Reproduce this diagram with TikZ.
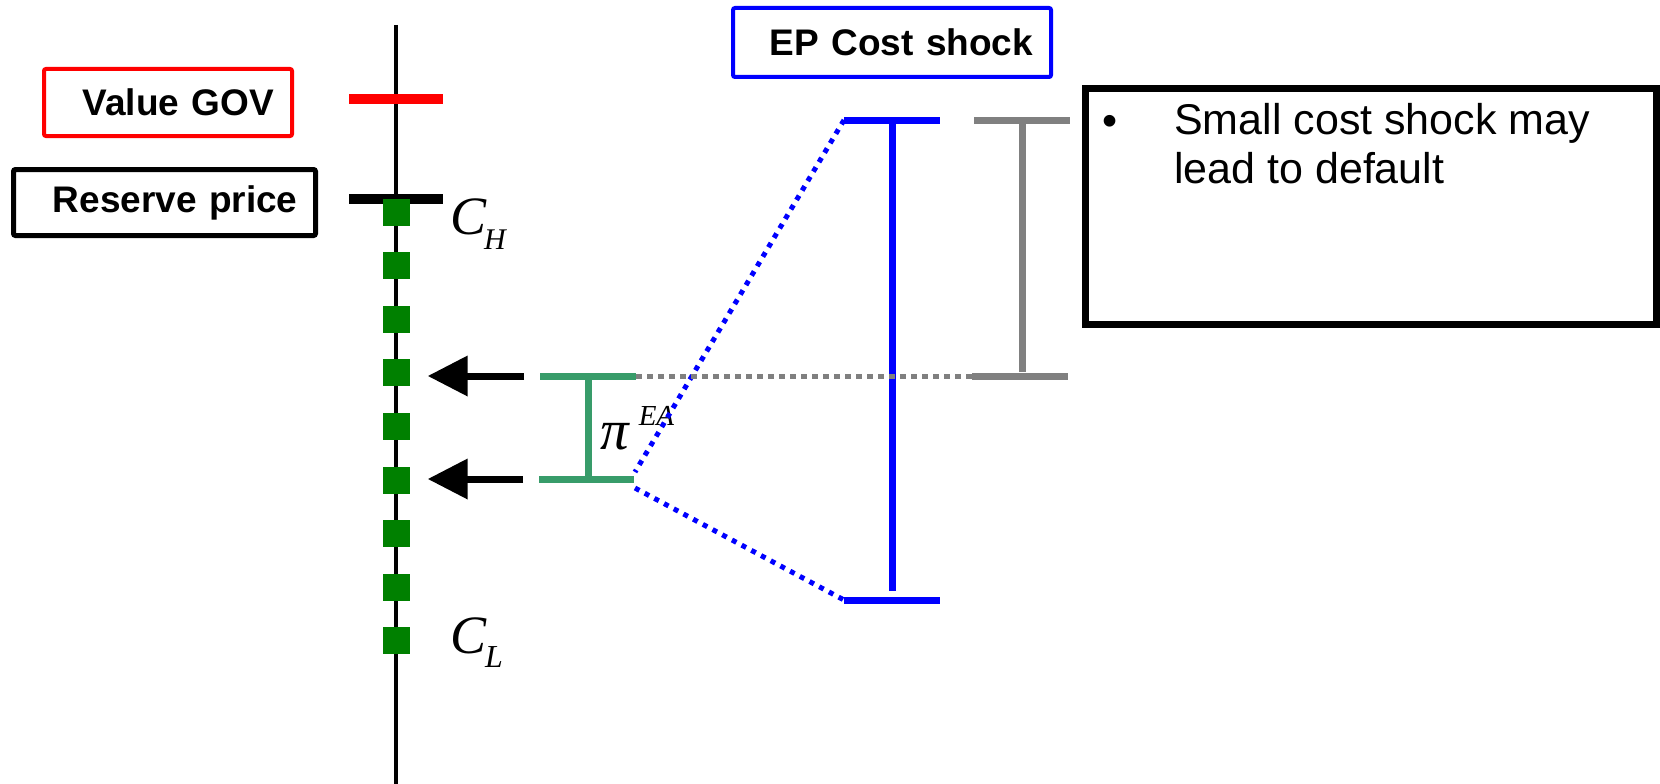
\documentclass[tikz,border=0pt]{standalone}
\usepackage{fontspec}
\setmainfont{Liberation Sans}
\newfontfamily\eqfont{Liberation Serif}
\usetikzlibrary{arrows.meta,positioning,calc}
\definecolor{Gov}{HTML}{FF0000}
\definecolor{Shock}{HTML}{0000FF}
\definecolor{Bid}{HTML}{008000}
\definecolor{Margin}{HTML}{389C6A}
\definecolor{Gap}{HTML}{808080}

\begin{document}
\begin{tikzpicture}[x=1pt,y=-1pt,>=Latex,
  tag/.style={draw,rounded corners=2pt,align=right,inner xsep=18pt,font=\fontsize{37}{40}\selectfont\bfseries},
  tick/.style={line width=10pt},
  bar/.style={line width=7pt},
  cost/.style={inner sep=0pt,anchor=base west,font=\fontsize{54}{54}\eqfont\itshape}]
  \useasboundingbox (0,0) rectangle (1660,784);
  \coordinate (top) at (396,25);
  \coordinate (bot) at (396,784);
  \draw[line width=4.5pt] (top) -- (bot);
  \node[tag,Gov,text=black,line width=4pt,text width=212pt,minimum height=67pt] (gov) at (168,102.5) {Value GOV};
  \node[tag,line width=5pt,text width=266pt,minimum height=66pt] (res) at (164.5,202.5) {Reserve price};
  \node[tag,Shock,text=black,line width=4pt,text width=282pt,minimum height=69pt] (ep) at (892,42.5) {EP Cost shock};
  \draw[tick,Gov] (349,98.5) -- (443,98.5);
  \draw[tick] (349,199) -- (443,199);
  \foreach \i in {1,...,9}
    \node[fill=Bid,minimum size=27pt,inner sep=0pt] (sq\i) at (396,{212+53.6*(\i-1)}) {};
  \node[cost] (ch) at (450,234) {C\kern-2pt\raisebox{-15pt}{\fontsize{30}{30}\selectfont H}};
  \node[cost] (cl) at (450,653) {C\kern-1pt\raisebox{-14pt}{\fontsize{32}{32}\selectfont L}};
  \coordinate (eal) at (540,376);
  \coordinate (ear) at (636,376);
  \coordinate (ebl) at (539,479);
  \coordinate (ebr) at (634,479);
  \coordinate (em) at ($(eal)!.5!(ear)$);
  \draw[bar,Margin] (eal) -- (ear);
  \draw[bar,Margin] (ebl) -- (ebr);
  \draw[bar,Margin] (em) -- (em |- ebl);
  \node[cost,font=\fontsize{57}{57}\eqfont\itshape] (pi) at (600,449) {π\kern10pt\raisebox{24pt}{\fontsize{29}{29}\selectfont EA}};
  \draw[bar,-{Triangle[length=40pt,width=39pt]}] ($(eal)+(-16,0)$) -- ($(eal -| sq4.east)+(18,0)$);
  \draw[bar,-{Triangle[length=40pt,width=39pt]}] ($(ebl)+(-16,0)$) -- ($(ebl -| sq6.east)+(18,0)$);
  \coordinate (sa) at (844,120);
  \coordinate (sb) at (940,120);
  \coordinate (sc) at (844,600);
  \coordinate (sd) at (940,600);
  \coordinate (sm) at ($(sa)!.5!(sb)$);
  \draw[bar,Shock] (sa) -- (sb);
  \draw[bar,Shock] (sc) -- (sd);
  \draw[bar,Shock,shorten >=9pt] (sm) -- (sm |- sc);
  \coordinate (fanu) at (635,472);
  \coordinate (fand) at (635,488);
  \draw[Shock,line width=5pt,dash pattern=on 5pt off 6pt] (sa) -- (fanu);
  \draw[Shock,line width=5pt,dash pattern=on 5pt off 6pt] (fand) -- (sc);
  \coordinate (ga) at (974,120);
  \coordinate (gb) at (1070,120);
  \coordinate (gc) at (972,376);
  \coordinate (gd) at (1068,376);
  \coordinate (gm) at ($(ga)!.5!(gb)$);
  \draw[bar,Gap] (ga) -- (gb);
  \draw[bar,Gap] (gc) -- (gd);
  \draw[bar,Gap,shorten >=4pt] (gm) -- (gm |- gc);
  \draw[Gap,line width=5pt,dash pattern=on 6pt off 5pt] (ear) -- (gc);
  \node[draw,line width=7pt,minimum width=571pt,minimum height=236pt,inner sep=0pt] (note) at (1371,206.5) {};
  \node[anchor=base,inner sep=0pt,font=\fontsize{43}{48}\selectfont] (dot) at (1110,135) {\textbullet};
  \node[anchor=north west,align=left,inner sep=0pt,font=\fontsize{43}{48.5}\selectfont] (notetext) at (1174,103.5) {Small cost shock may\\lead to default};
\end{tikzpicture}
\end{document}
